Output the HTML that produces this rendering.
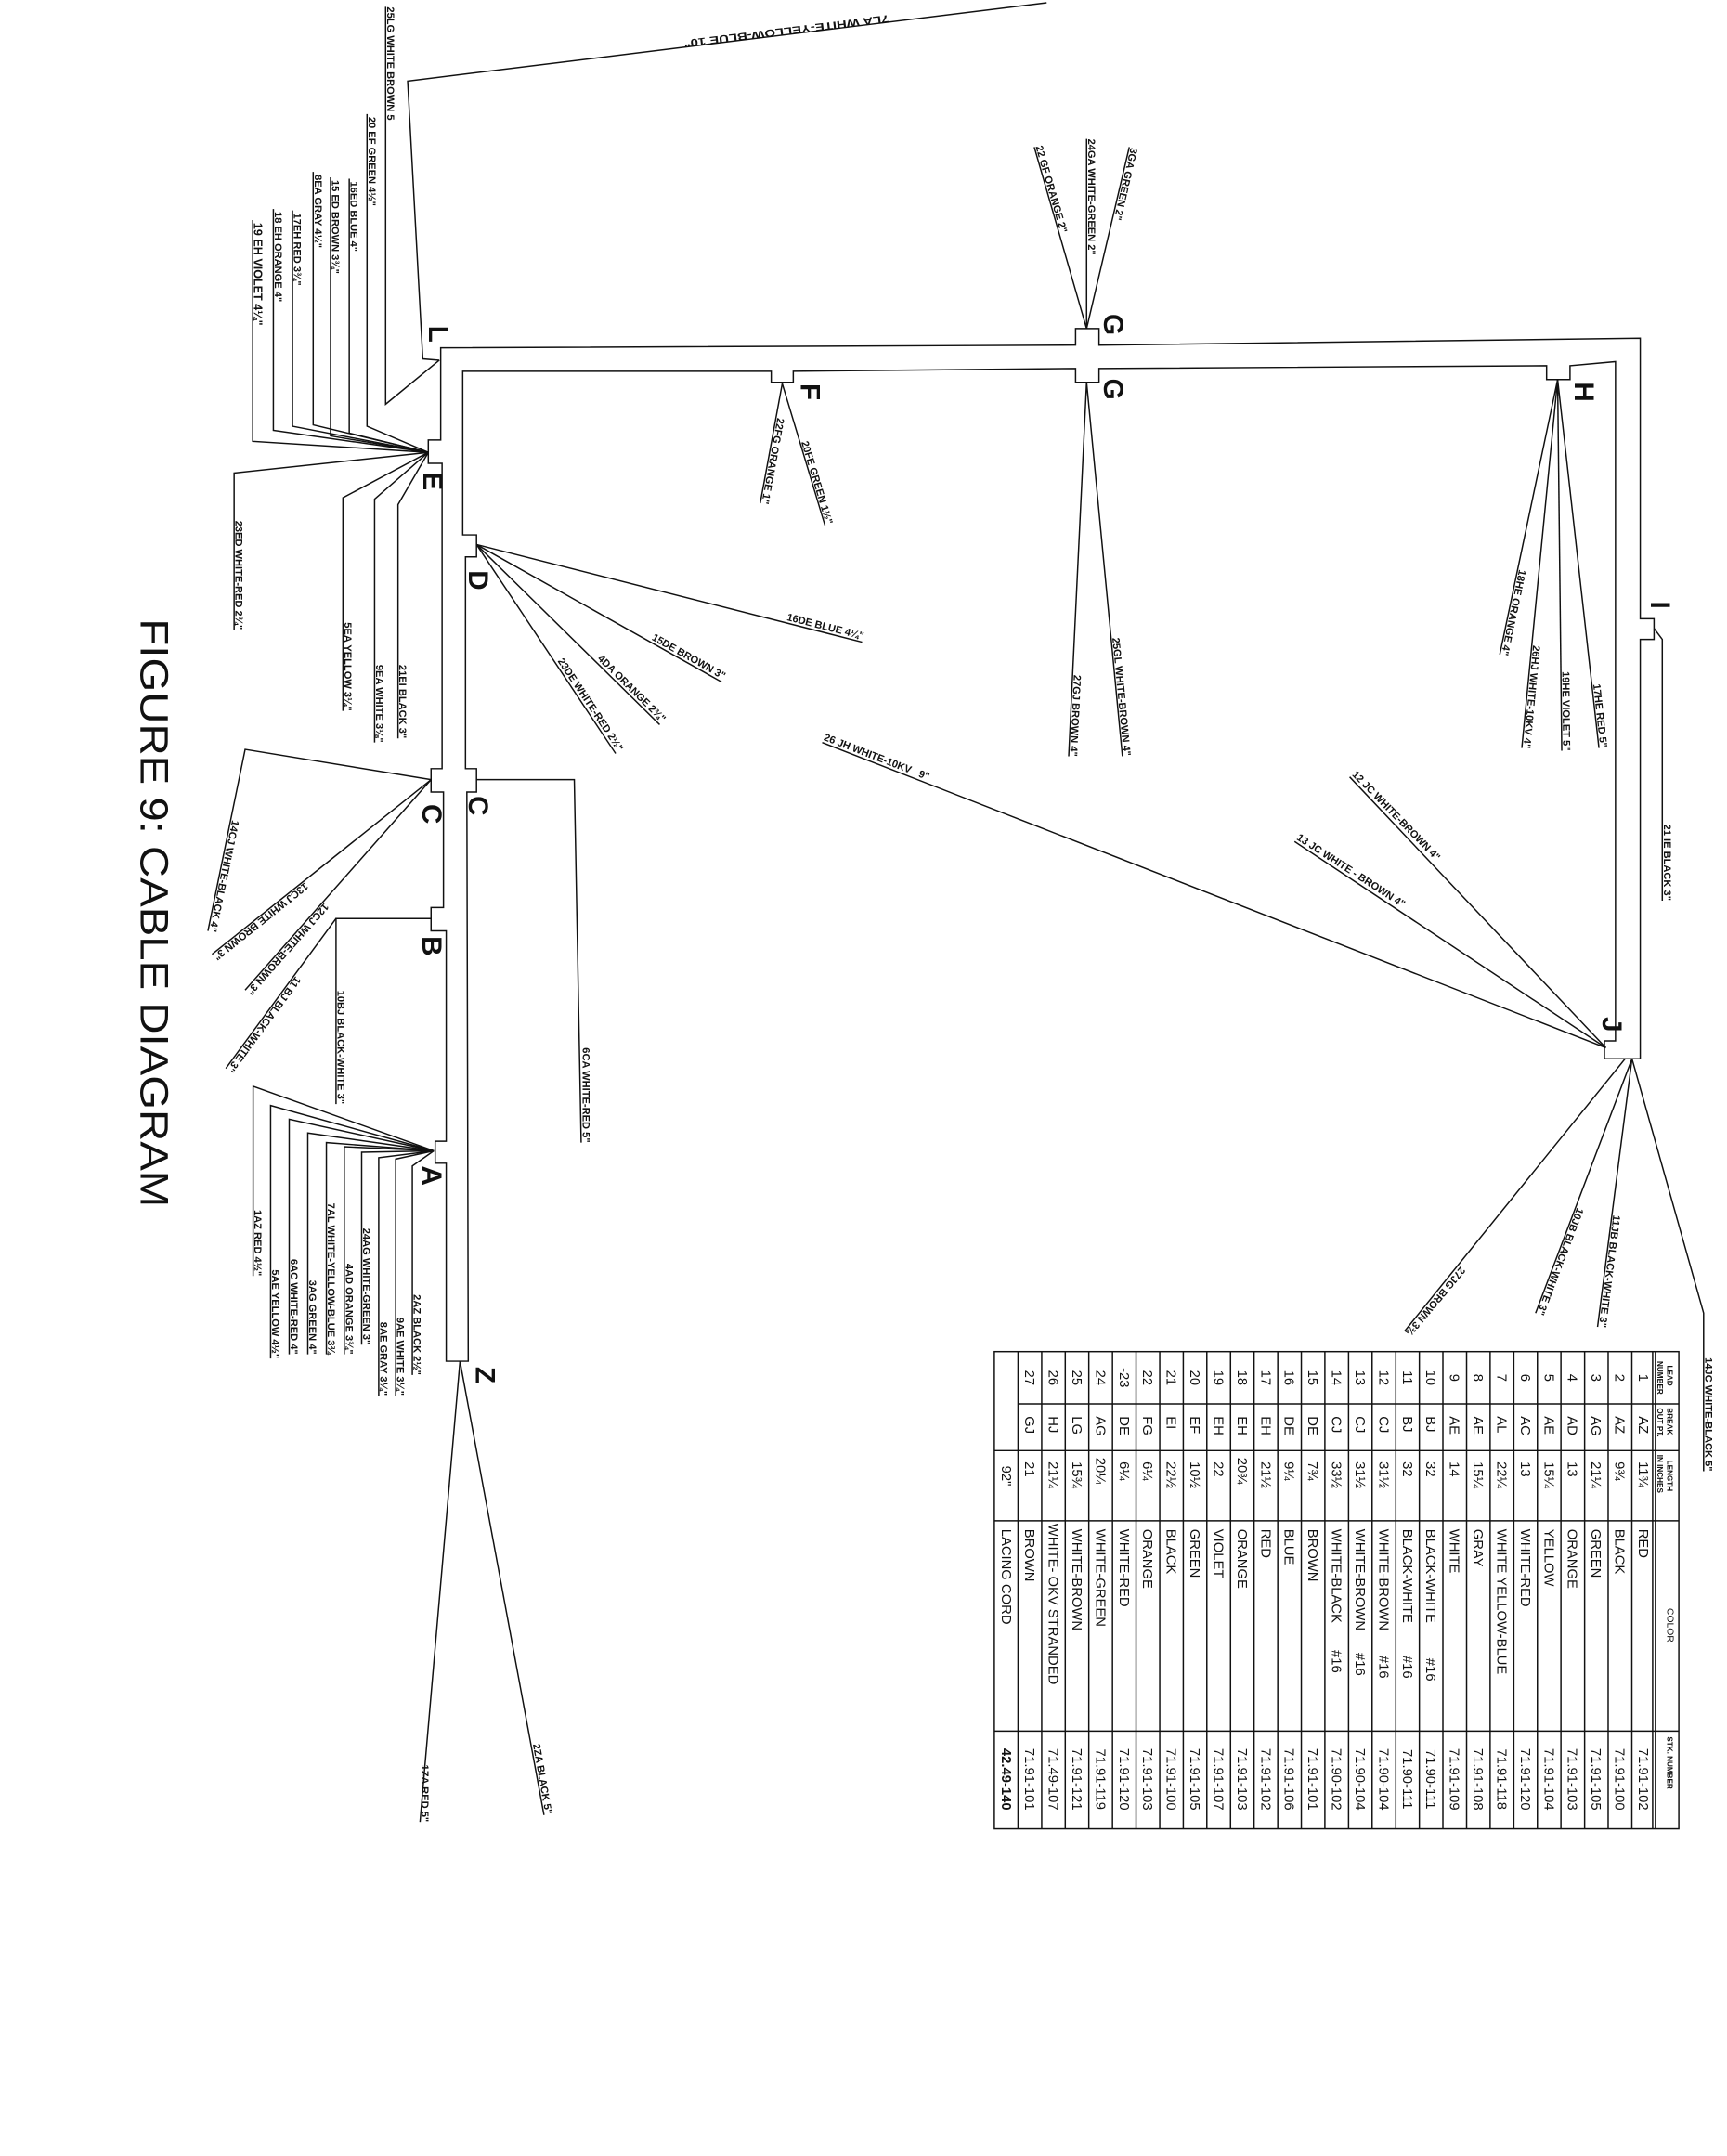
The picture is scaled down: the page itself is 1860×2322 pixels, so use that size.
<!DOCTYPE html>
<html><head><meta charset="utf-8"><style>
html,body{margin:0;padding:0;background:#fff;}
svg{display:block;}
text{font-family:"Liberation Sans",sans-serif;fill:#111;}
.l{font-size:7.5px;font-weight:bold;}
.n{font-size:20px;font-weight:bold;}
.t{font-size:10px;}
.h{font-size:5.5px;font-weight:bold;}
</style></head><body>
<svg width="1860" height="2322" viewBox="0 0 1254 1568" preserveAspectRatio="none" xmlns="http://www.w3.org/2000/svg">
<g fill="none" stroke="#111" stroke-width="1">
<path d="M324,990 L324,846 L316,846 L316,830 L324,830 L324,677 L313,677 L313,660 L322,660 L322,576 L313,576 L313,559 L321,559 L321,337 L311,337 L311,320 L320,320 L320,253 L781,251 L781,239 L798,239 L798,251 L1191,246 L1191,450 L1201,450 L1201,465 L1191,465 L1191,770 L1165,770 L1165,757 L1173,757 L1173,263 L1140,266 L1140,276 L1123,276 L1123,266 L798,268 L798,278 L781,278 L781,268 L576,270 L576,278 L560,278 L560,270 L336,270 L336,389 L346,389 L346,405 L338,405 L338,559 L346,559 L346,576 L339,576 L340,990 Z"/>
<polyline points="319,262 307,261 296,59 760,2"/>
<polyline points="280,5 280,294 319,262"/>
<polyline points="266.5,83 266.5,310 311,329"/>
<polyline points="253.6,130 253.6,315 311,329"/>
<polyline points="240,129 240,317 311,329"/>
<polyline points="227.4,125 227.4,309 311,329"/>
<polyline points="212.4,153 212.4,310 311,329"/>
<polyline points="198.5,152 198.5,313 311,329"/>
<polyline points="183.5,160 183.5,321 311,329"/>
<polyline points="311,329 170,344 170,458"/>
<polyline points="311,329 249,362 249,517"/>
<polyline points="311,329 272,363 272,540"/>
<polyline points="311,329 289,367 289,537"/>
<line x1="346" y1="396" x2="626" y2="467"/>
<line x1="346" y1="396" x2="524" y2="496"/>
<line x1="346" y1="396" x2="479" y2="527"/>
<line x1="346" y1="396" x2="447" y2="548"/>
<line x1="568" y1="279" x2="552" y2="366"/>
<line x1="568" y1="279" x2="599" y2="382"/>
<line x1="789" y1="239" x2="751" y2="107"/>
<line x1="789" y1="239" x2="789" y2="101"/>
<line x1="789" y1="239" x2="820" y2="107"/>
<line x1="789" y1="278" x2="776" y2="550"/>
<line x1="789" y1="278" x2="815" y2="550"/>
<line x1="1131" y1="276" x2="1089" y2="476"/>
<line x1="1131" y1="276" x2="1105" y2="544"/>
<line x1="1131" y1="276" x2="1134" y2="546"/>
<line x1="1131" y1="276" x2="1161" y2="544"/>
<polyline points="1201,457 1207,465 1207,655"/>
<line x1="1166" y1="762" x2="980" y2="565"/>
<line x1="1166" y1="762" x2="940" y2="612"/>
<line x1="1166" y1="762" x2="597" y2="540"/>
<line x1="1180" y1="770" x2="1020" y2="968"/>
<line x1="1185" y1="770" x2="1115" y2="955"/>
<line x1="1185" y1="770" x2="1160" y2="965"/>
<polyline points="1185,770 1237,955 1237,1070"/>
<polyline points="313,567 178,545 151,677"/>
<line x1="313" y1="567" x2="154" y2="694"/>
<line x1="313" y1="567" x2="178" y2="720"/>
<polyline points="346,567 417,567 422,831"/>
<polyline points="313,668 244,668 244,803"/>
<line x1="244" y1="668" x2="164" y2="777"/>
<polyline points="183.8,928 183.8,790 315,837"/>
<polyline points="196.5,988 196.5,804 315,837"/>
<polyline points="210,985 210,814 315,837"/>
<polyline points="223.5,985 223.5,824 315,837"/>
<polyline points="237,985 237,831 315,837"/>
<polyline points="250,985 250,834 315,837"/>
<polyline points="262.6,978 262.6,838 315,837"/>
<polyline points="275,1015 275,842 315,837"/>
<polyline points="287.3,1015 287.3,843 315,837"/>
<polyline points="299.4,1000 299.4,848 315,837"/>
<line x1="334" y1="990" x2="305" y2="1325"/>
<line x1="334" y1="990" x2="395" y2="1320"/>
</g>

<g class="n" text-anchor="middle" dominant-baseline="central">
<text transform="translate(318,243) rotate(90)">L</text>
<text transform="translate(314,350) rotate(90)">E</text>
<text transform="translate(347,422) rotate(90)">D</text>
<text transform="translate(588,285) rotate(90)">F</text>
<text transform="translate(808,236) rotate(90)">G</text>
<text transform="translate(808,283) rotate(90)">G</text>
<text transform="translate(1150,285) rotate(90)">H</text>
<text transform="translate(1205,440) rotate(90)">I</text>
<text transform="translate(1170,745) rotate(90)">J</text>
<text transform="translate(313,592) rotate(90)">C</text>
<text transform="translate(347,586) rotate(90)">C</text>
<text transform="translate(313,688) rotate(90)">B</text>
<text transform="translate(313,855) rotate(90)">A</text>
<text transform="translate(352,1000) rotate(90)">Z</text>
</g>

<text transform="translate(102,450) rotate(90)" style="font-size:29px" textLength="428" lengthAdjust="spacingAndGlyphs">FIGURE 9: CABLE DIAGRAM</text>

<g class="l">
<text transform="translate(645,10) rotate(173) translate(0,-1)" textLength="150" lengthAdjust="spacingAndGlyphs">7LA WHITE-YELLOW-BLUE 10"</text>
<text transform="translate(281,5) rotate(90)">25LG WHITE BROWN 5</text>
<text transform="translate(267.5,85) rotate(90)">20 EF GREEN 4½"</text>
<text transform="translate(254.6,132) rotate(90)">16ED BLUE 4"</text>
<text transform="translate(241,131) rotate(90)">15 ED BROWN 3¾"</text>
<text transform="translate(228.4,127) rotate(90)">8EA GRAY 4½"</text>
<text transform="translate(213.4,155) rotate(90)">17EH RED 3¾"</text>
<text transform="translate(199.5,154) rotate(90)">18 EH ORANGE 4"</text>
<text transform="translate(184.5,162) rotate(90)" style="font-size:8.5px">19 EH VIOLET 4¼"</text>
<text transform="translate(751,107) rotate(73.9) translate(0,-1)">22 GF ORANGE 2"</text>
<text transform="translate(790,101) rotate(90)">24GA WHITE-GREEN 2"</text>
<text transform="translate(820,107) rotate(103) translate(0,-1)">3GA GREEN 2"</text>
<g text-anchor="end">
<text transform="translate(171,458) rotate(90)">23ED WHITE-RED 2¾"</text>
<text transform="translate(250,517) rotate(90)">5EA YELLOW 3¼"</text>
<text transform="translate(273,540) rotate(90)">9EA WHITE 3⅛"</text>
<text transform="translate(290,537) rotate(90)">21EI BLACK 3"</text>
<text transform="translate(626,467) rotate(14.2) translate(0,-2)">16DE BLUE 4¼"</text>
<text transform="translate(524,496) rotate(29.3) translate(0,-2)">15DE BROWN 3"</text>
<text transform="translate(479,527) rotate(44.6) translate(0,-2)">4DA ORANGE 2¾"</text>
<text transform="translate(447,548) rotate(56.4) translate(0,-2)">23DE WHITE-RED 2½"</text>
<text transform="translate(552,366) rotate(100.4) translate(0,-1)">22FG ORANGE 1"</text>
<text transform="translate(599,382) rotate(73.2) translate(0,-1)">20FE GREEN 1½"</text>
<text transform="translate(776,550) rotate(92.7) translate(0,-1)">27GJ BROWN 4"</text>
<text transform="translate(815,550) rotate(84.5) translate(0,-1)">25GL WHITE-BROWN 4"</text>
<text transform="translate(1089,476) rotate(101.9) translate(0,-1)">18HE ORANGE 4"</text>
<text transform="translate(1105,544) rotate(95.5) translate(0,-1)">26HJ WHITE-10KV 4"</text>
<text transform="translate(1134,546) rotate(89.4) translate(0,-1)">19HE VIOLET 5"</text>
<text transform="translate(1161,544) rotate(83.6) translate(0,-1)">17HE RED 5"</text>
<text transform="translate(1208,655) rotate(90)">21 IE BLACK 3"</text>
<text transform="translate(1115,955) rotate(110.7) translate(0,-1)">10JB BLACK-WHITE 3"</text>
<text transform="translate(1160,965) rotate(97.3) translate(0,-1)">11JB BLACK-WHITE 3"</text>
<text transform="translate(1020,968) rotate(129.8) translate(0,-1)">27JG BROWN 3¾</text>
<text transform="translate(1238,1070) rotate(90)">14JC WHITE-BLACK 5"</text>
<text transform="translate(151,677) rotate(101.6) translate(0,-1)">14CJ WHITE-BLACK 4"</text>
<text transform="translate(154,694) rotate(141.4) translate(0,-1)">13CJ WHITE BROWN 3"</text>
<text transform="translate(178,720) rotate(131.4) translate(0,-1)">12CJ WHITE-BROWN 3"</text>
<text transform="translate(164,777) rotate(126.3) translate(0,-1)">11 BJ BLACK-WHITE 3"</text>
<text transform="translate(245,803) rotate(90)">10BJ BLACK-WHITE 3"</text>
<text transform="translate(423,831) rotate(90)">6CA WHITE-RED 5"</text>
<text transform="translate(184.8,928) rotate(90)">1AZ RED 4½"</text>
<text transform="translate(197.5,988) rotate(90)">5AE YELLOW 4½"</text>
<text transform="translate(211,985) rotate(90)">6AC WHITE-RED 4"</text>
<text transform="translate(224.5,985) rotate(90)">3AG GREEN 4"</text>
<text transform="translate(238,985) rotate(90)">7AL WHITE-YELLOW-BLUE 3¾</text>
<text transform="translate(251,985) rotate(90)">4AD ORANGE 3¾"</text>
<text transform="translate(263.6,978) rotate(90)">24AG WHITE-GREEN 3"</text>
<text transform="translate(276,1015) rotate(90)">8AE GRAY 3¼"</text>
<text transform="translate(288.3,1015) rotate(90)">9AE WHITE 3¼"</text>
<text transform="translate(300.4,1000) rotate(90)">2AZ BLACK 2½"</text>
<text transform="translate(306,1325) rotate(90)">1ZA RED 5"</text>
<text transform="translate(395,1320) rotate(80) translate(0,-1)">2ZA BLACK 5"</text>
</g>
<text transform="translate(597,540) rotate(21.1) translate(0,-2)">26 JH WHITE-10KV&#160;&#160;&#160;9"</text>
<text transform="translate(980,565) rotate(45.7) translate(0,-2)">12 JC WHITE-BROWN 4"</text>
<text transform="translate(940,612) rotate(32.9) translate(0,-2)">13 JC WHITE - BROWN 4"</text>
</g>

<g fill="none" stroke="#111" stroke-width="1">
<rect x="722" y="983" width="497" height="347"/>
<line x1="1202" y1="983" x2="1202" y2="1330"/>
<line x1="1200" y1="983" x2="1200" y2="1330"/>
<path d="M1184.9,983V1330M1167.7,983V1330M1150.6,983V1330M1133.4,983V1330M1116.3,983V1330M1099.2,983V1330M1082,983V1330M1064.9,983V1330M1047.7,983V1330M1030.6,983V1330M1013.5,983V1330M996.3,983V1330M979.2,983V1330M962,983V1330M944.9,983V1330M927.8,983V1330M910.6,983V1330M893.5,983V1330M876.3,983V1330M859.2,983V1330M842.1,983V1330M824.9,983V1330M807.8,983V1330M790.6,983V1330M773.5,983V1330M756.4,983V1330M739.2,983V1330"/>
<line x1="739.2" y1="1021" x2="1219" y2="1021"/>
<line x1="722" y1="1055" x2="1219" y2="1055"/>
<line x1="722" y1="1106" x2="1219" y2="1106"/>
<line x1="722" y1="1259" x2="1219" y2="1259"/>
</g>
<g class="h">
<g transform="translate(1203.5,0) rotate(90)"><text x="990">NUMBER</text><text x="1024">OUT PT.</text><text x="1058">IN INCHES</text></g>
<g transform="translate(1210.5,0) rotate(90)"><text x="993">LEAD</text><text x="1024">BREAK</text><text x="1062">LENGTH</text><text x="1182" text-anchor="middle" style="font-weight:normal;font-size:7px">COLOR</text><text x="1263">STK. NUMBER</text></g>
</g>
<g class="t">
<g transform="translate(1189.9,0) rotate(90)"><text x="1002" text-anchor="middle">1</text><text x="1030">AZ</text><text x="1063">11¾</text><text x="1112">RED</text><text x="1294" text-anchor="middle">71.91-102</text></g>
<g transform="translate(1172.8,0) rotate(90)"><text x="1002" text-anchor="middle">2</text><text x="1030">AZ</text><text x="1063">9¾</text><text x="1112">BLACK</text><text x="1294" text-anchor="middle">71.91-100</text></g>
<g transform="translate(1155.6,0) rotate(90)"><text x="1002" text-anchor="middle">3</text><text x="1030">AG</text><text x="1063">21¼</text><text x="1112">GREEN</text><text x="1294" text-anchor="middle">71.91-105</text></g>
<g transform="translate(1138.5,0) rotate(90)"><text x="1002" text-anchor="middle">4</text><text x="1030">AD</text><text x="1063">13</text><text x="1112">ORANGE</text><text x="1294" text-anchor="middle">71.91-103</text></g>
<g transform="translate(1121.4,0) rotate(90)"><text x="1002" text-anchor="middle">5</text><text x="1030">AE</text><text x="1063">15¼</text><text x="1112">YELLOW</text><text x="1294" text-anchor="middle">71.91-104</text></g>
<g transform="translate(1104.2,0) rotate(90)"><text x="1002" text-anchor="middle">6</text><text x="1030">AC</text><text x="1063">13</text><text x="1112">WHITE-RED</text><text x="1294" text-anchor="middle">71.91-120</text></g>
<g transform="translate(1087.1,0) rotate(90)"><text x="1002" text-anchor="middle">7</text><text x="1030">AL</text><text x="1063">22¼</text><text x="1112">WHITE YELLOW-BLUE</text><text x="1294" text-anchor="middle">71.91-118</text></g>
<g transform="translate(1070,0) rotate(90)"><text x="1002" text-anchor="middle">8</text><text x="1030">AE</text><text x="1063">15¼</text><text x="1112">GRAY</text><text x="1294" text-anchor="middle">71.91-108</text></g>
<g transform="translate(1052.8,0) rotate(90)"><text x="1002" text-anchor="middle">9</text><text x="1030">AE</text><text x="1063">14</text><text x="1112">WHITE</text><text x="1294" text-anchor="middle">71.91-109</text></g>
<g transform="translate(1035.7,0) rotate(90)"><text x="1002" text-anchor="middle">10</text><text x="1030">BJ</text><text x="1063">32</text><text x="1112">BLACK-WHITE</text><text x="1206">#16</text><text x="1294" text-anchor="middle">71.90-111</text></g>
<g transform="translate(1018.6,0) rotate(90)"><text x="1002" text-anchor="middle">11</text><text x="1030">BJ</text><text x="1063">32</text><text x="1112">BLACK-WHITE</text><text x="1204">#16</text><text x="1294" text-anchor="middle">71.90-111</text></g>
<g transform="translate(1001.4,0) rotate(90)"><text x="1002" text-anchor="middle">12</text><text x="1030">CJ</text><text x="1063">31½</text><text x="1112">WHITE-BROWN</text><text x="1204">#16</text><text x="1294" text-anchor="middle">71.90-104</text></g>
<g transform="translate(984.3,0) rotate(90)"><text x="1002" text-anchor="middle">13</text><text x="1030">CJ</text><text x="1063">31½</text><text x="1112">WHITE-BROWN</text><text x="1202">#16</text><text x="1294" text-anchor="middle">71.90-104</text></g>
<g transform="translate(967.2,0) rotate(90)"><text x="1002" text-anchor="middle">14</text><text x="1030">CJ</text><text x="1063">33½</text><text x="1112">WHITE-BLACK</text><text x="1200">#16</text><text x="1294" text-anchor="middle">71.90-102</text></g>
<g transform="translate(950,0) rotate(90)"><text x="1002" text-anchor="middle">15</text><text x="1030">DE</text><text x="1063">7¾</text><text x="1112">BROWN</text><text x="1294" text-anchor="middle">71.91-101</text></g>
<g transform="translate(932.9,0) rotate(90)"><text x="1002" text-anchor="middle">16</text><text x="1030">DE</text><text x="1063">9¼</text><text x="1112">BLUE</text><text x="1294" text-anchor="middle">71.91-106</text></g>
<g transform="translate(915.8,0) rotate(90)"><text x="1002" text-anchor="middle">17</text><text x="1030">EH</text><text x="1063">21½</text><text x="1112">RED</text><text x="1294" text-anchor="middle">71.91-102</text></g>
<g transform="translate(898.6,0) rotate(90)"><text x="1002" text-anchor="middle">18</text><text x="1030">EH</text><text x="1060">20¾</text><text x="1112">ORANGE</text><text x="1294" text-anchor="middle">71.91-103</text></g>
<g transform="translate(881.5,0) rotate(90)"><text x="1002" text-anchor="middle">19</text><text x="1030">EH</text><text x="1063">22</text><text x="1112">VIOLET</text><text x="1294" text-anchor="middle">71.91-107</text></g>
<g transform="translate(864.4,0) rotate(90)"><text x="1002" text-anchor="middle">20</text><text x="1030">EF</text><text x="1063">10½</text><text x="1112">GREEN</text><text x="1294" text-anchor="middle">71.91-105</text></g>
<g transform="translate(847.2,0) rotate(90)"><text x="1002" text-anchor="middle">21</text><text x="1030">EI</text><text x="1063">22½</text><text x="1112">BLACK</text><text x="1294" text-anchor="middle">71.91-100</text></g>
<g transform="translate(830.1,0) rotate(90)"><text x="1002" text-anchor="middle">22</text><text x="1030">FG</text><text x="1063">6¼</text><text x="1112">ORANGE</text><text x="1294" text-anchor="middle">71.91-103</text></g>
<g transform="translate(813,0) rotate(90)"><text x="1002" text-anchor="middle">-23</text><text x="1030">DE</text><text x="1063">6¼</text><text x="1112">WHITE-RED</text><text x="1294" text-anchor="middle">71.91-120</text></g>
<g transform="translate(795.8,0) rotate(90)"><text x="1002" text-anchor="middle">24</text><text x="1030">AG</text><text x="1060">20¼</text><text x="1112">WHITE-GREEN</text><text x="1294" text-anchor="middle">71.91-119</text></g>
<g transform="translate(778.7,0) rotate(90)"><text x="1002" text-anchor="middle">25</text><text x="1030">LG</text><text x="1063">15¾</text><text x="1112">WHITE-BROWN</text><text x="1294" text-anchor="middle">71.91-121</text></g>
<g transform="translate(761.6,0) rotate(90)"><text x="1002" text-anchor="middle">26</text><text x="1030">HJ</text><text x="1063">21¼</text><text x="1108">WHITE- OKV STRANDED</text><text x="1294" text-anchor="middle">71.49-107</text></g>
<g transform="translate(744.4,0) rotate(90)"><text x="1002" text-anchor="middle">27</text><text x="1030">GJ</text><text x="1063">21</text><text x="1112">BROWN</text><text x="1294" text-anchor="middle">71.91-101</text></g>
<g transform="translate(727.3,0) rotate(90)"><text x="1066">92"</text><text x="1112">LACING CORD</text><text x="1294" text-anchor="middle" style="font-weight:bold">42.49-140</text></g>
</g>
</svg>
</body></html>
